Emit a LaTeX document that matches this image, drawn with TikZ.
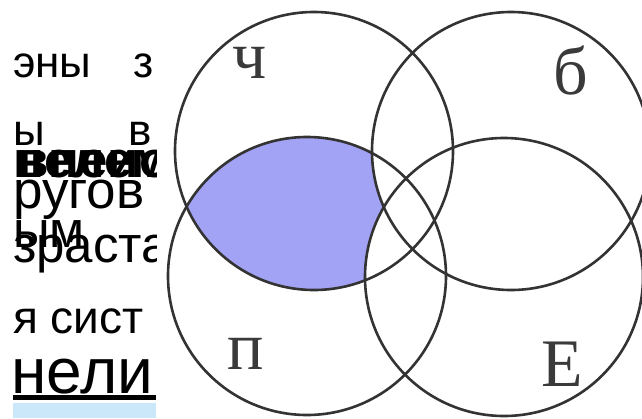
\documentclass[tikz,border=0pt]{standalone}
\usepackage{fontspec}
\setmainfont{Liberation Sans}
\newfontfamily\timesfont{Liberation Serif}
\usetikzlibrary{positioning}
\definecolor{eublue}{HTML}{A3A3F5}
\definecolor{euline}{HTML}{333333}
\definecolor{eulabel}{HTML}{3A3A3A}
\definecolor{eulink}{HTML}{CBE7FA}

\begin{document}
\begin{tikzpicture}[x=1pt, y=-1pt,
  ring/.style={draw=euline, line width=2.6pt},
  lbl/.style={anchor=base, inner sep=0pt, text=eulabel, font=\timesfont\fontsize{68}{68}\selectfont},
  txt/.style={anchor=base west, inner sep=0pt, font=\fontsize{44}{44}\selectfont},
  bigtxt/.style={txt, font=\fontsize{51}{51}\selectfont}
]
  \clip (0,0) rectangle (642,418);

  % slide text behind the figure
  \begin{scope}
    \clip (13,0) rectangle (156,418);
    \node[txt] (row1) at (13,77) {\makebox[140pt][l]{эны\hfill з}};
    \node[txt] (row2) at (13,145) {\makebox[139pt][l]{ы\hfill в}};
    \node[bigtxt, font=\bfseries\fontsize{51}{51}\selectfont] (bolda) at (13,177) {нелемо};
    \node[bigtxt, font=\bfseries\fontsize{51}{51}\selectfont] (boldb) at (17,177) {впеиоб};
    \node[bigtxt, font=\fontsize{53}{53}\selectfont] (row3) at (13,208) {ругов};
    \node[bigtxt] (row4) at (13,247) {ым};
    \node[bigtxt] (row5) at (13,262) {зраста};
    \node[txt, font=\fontsize{46}{46}\selectfont] (row6) at (13,333) {я сист};
    \node[bigtxt, font=\fontsize{64}{64}\selectfont] (row7) at (11,393) {нели};
    \fill (13,395) rectangle (156,400);
    \fill[eulink] (13,403) rectangle (156,418);
  \end{scope}

  % circle centres
  \coordinate (ch) at (314,151);
  \coordinate (b) at (511,151);
  \coordinate (p) at (307,276);
  \coordinate (e) at (504,277);

  % shaded part: ч and п, outside б and Е
  \begin{scope}
    \clip (ch) circle[radius=139];
    \clip (p) circle[radius=139];
    \fill[eublue] (ch) circle[radius=160];
    \fill[white] (b) circle[radius=139];
    \fill[white] (e) circle[radius=139];
  \end{scope}

  \foreach \c in {ch,b,p,e}
    \draw[ring] (\c) circle[radius=139];

  \node[lbl] (lch) at (250,78) {ч};
  \node[lbl] (lb) at (571,94) {б};
  \node[lbl] (lp) at (246,369) {п};
  \node[lbl] (le) at (562,386) {Е};
\end{tikzpicture}
\end{document}
